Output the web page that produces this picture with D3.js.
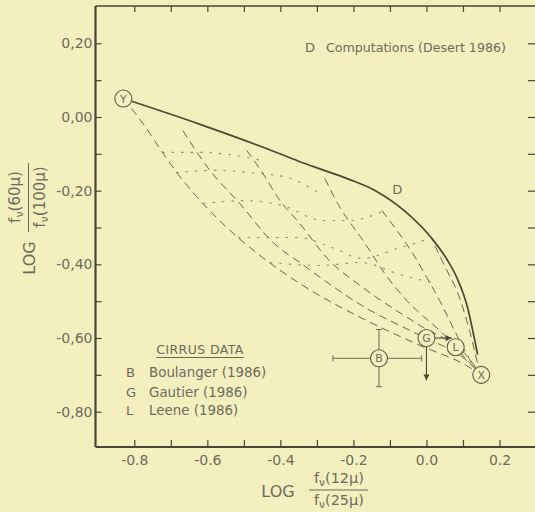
<!DOCTYPE html>
<html>
<head>
<meta charset="utf-8">
<script src="https://cdn.jsdelivr.net/npm/d3@7"></script>
<style>
  body { margin: 0; background: #f4efbf; }
  svg { display: block; background: #f4efbf; }
  text { font-family: "DejaVu Sans", sans-serif; fill: #6f6c5a; }
</style>
</head>
<body>
<svg width="535" height="512"></svg>
<script>
// axis ticks
var xTicks = [-0.8, -0.7, -0.6, -0.5, -0.4, -0.3, -0.2, -0.1, 0.0, 0.1, 0.2];
var xLabels = [-0.8, -0.6, -0.4, -0.2, 0.0, 0.2];
var yTicks = [0.2, 0.1, 0.0, -0.1, -0.2, -0.3, -0.4, -0.5, -0.6, -0.7, -0.8];
var yLabels = [0.2, 0.0, -0.2, -0.4, -0.6, -0.8];

// end points of the mixing curves
var pointY = [-0.83, 0.05];
var pointX = [0.15, -0.70];

// Desert (1986) computed curve D
var curveD = [[-0.83, 0.05], [-0.62, -0.02], [-0.44, -0.085], [-0.35, -0.12], [-0.28, -0.145],
  [-0.21, -0.17], [-0.14, -0.20], [-0.06, -0.255], [0.015, -0.33], [0.055, -0.385],
  [0.085, -0.44], [0.112, -0.515], [0.133, -0.61], [0.14, -0.645]];

// dashed curves converging on X
var dashA = [[-0.83, 0.05], [-0.776, -0.018], [-0.721, -0.099], [-0.667, -0.172], [-0.612, -0.235],
  [-0.538, -0.308], [-0.448, -0.382], [-0.347, -0.452], [-0.163, -0.553], [-0.018, -0.62], [0.11, -0.675], [0.15, -0.70]];
var dashB = [[-0.667, -0.037], [-0.593, -0.145], [-0.511, -0.235], [-0.42, -0.341], [-0.347, -0.395],
  [-0.163, -0.52], [-0.018, -0.593], [0.11, -0.661], [0.15, -0.70]];
var dashC = [[-0.492, -0.091], [-0.448, -0.153], [-0.401, -0.227], [-0.347, -0.289], [-0.273, -0.382],
  [-0.163, -0.471], [-0.018, -0.566], [0.11, -0.648], [0.15, -0.70]];
var dashD = [[-0.278, -0.167], [-0.243, -0.235], [-0.174, -0.335], [-0.10, -0.444], [-0.054, -0.498],
  [0.05, -0.593], [0.118, -0.667], [0.15, -0.70]];
var dashE = [[-0.122, -0.254], [-0.081, -0.308], [-0.037, -0.371], [0.001, -0.436], [0.036, -0.498],
  [0.077, -0.58], [0.124, -0.667], [0.15, -0.70]];
var dashF = [[0.023, -0.349], [0.056, -0.417], [0.083, -0.471], [0.118, -0.58], [0.14, -0.669]];

// dotted cross lines
var iso1 = [[-0.724, -0.096], [-0.62, -0.096], [-0.519, -0.105], [-0.451, -0.118]];
var iso2 = [[-0.686, -0.151], [-0.579, -0.145], [-0.483, -0.151], [-0.382, -0.164], [-0.297, -0.205]];
var iso3 = [[-0.612, -0.235], [-0.497, -0.227], [-0.396, -0.24], [-0.284, -0.281], [-0.21, -0.281], [-0.122, -0.257]];
var iso4 = [[-0.516, -0.327], [-0.355, -0.327], [-0.251, -0.357], [-0.177, -0.384], [-0.079, -0.357], [0.009, -0.33]];
var iso5 = [[-0.429, -0.395], [-0.292, -0.403], [-0.182, -0.395], [-0.065, -0.43], [0.028, -0.452]];

// cirrus data
var cirrusIds = ['B', 'G', 'L'];
var cirrusNames = ['Boulanger (1986)', 'Gautier (1986)', 'Leene (1986)'];
var cirrusX = [-0.13, 0.0, 0.08];
var cirrusY = [-0.655, -0.60, -0.625];
var boulangerXErr = [-0.256, -0.013];
var boulangerYErr = [-0.577, -0.732];
var gautierLimits = [0.069, -0.715]; // right arrow to x, down arrow to y

var ink = '#4a4733', dashInk = '#6b6750';

var svg = d3.select('svg');
var frame = { left: 95.5, top: 6, right: 537, bottom: 447 };

var x = d3.scaleLinear().domain([-0.8, 0.2]).range([134.3, 499.5]);
var y = d3.scaleLinear().domain([-0.8, 0.2]).range([411.7, 43.3]);

var line = d3.line()
  .x(function (d) { return x(d[0]); })
  .y(function (d) { return y(d[1]); })
  .curve(d3.curveMonotoneX);

function isLabel(list, d) {
  return list.some(function (v) { return Math.abs(v - d) < 1e-9; });
}

// ticks
function styleAxis(g) {
  g.select('.domain').remove();
  g.selectAll('.tick line').attr('stroke', ink).attr('stroke-width', 1.2);
  g.selectAll('text').style('font-size', '14px').attr('fill', '#6f6c5a');
  g.selectAll('text').filter(function () { return this.textContent === ''; }).remove();
}

svg.append('g')
  .attr('transform', 'translate(0,' + frame.bottom + ')')
  .call(d3.axisBottom(x).tickValues(xTicks).tickSize(-7).tickPadding(8)
    .tickFormat(function (d) { return isLabel(xLabels, d) ? d.toFixed(1) : ''; }))
  .call(styleAxis);

svg.append('g')
  .attr('transform', 'translate(0,' + frame.top + ')')
  .call(d3.axisTop(x).tickValues(xTicks).tickSize(-6).tickFormat(''))
  .call(styleAxis);

svg.append('g')
  .attr('transform', 'translate(' + frame.left + ',0)')
  .call(d3.axisLeft(y).tickValues(yTicks).tickSize(-6).tickPadding(3)
    .tickFormat(function (d) { return isLabel(yLabels, d) ? d.toFixed(2).replace('.', ',') : ''; }))
  .call(styleAxis);

svg.append('g')
  .attr('transform', 'translate(' + (frame.right - 2) + ',0)')
  .call(d3.axisRight(y).tickValues(yTicks).tickSize(-7).tickFormat(''))
  .call(styleAxis);

// frame
svg.append('line').attr('x1', frame.left).attr('x2', frame.right).attr('y1', frame.top).attr('y2', frame.top)
  .attr('stroke', ink).attr('stroke-width', 1.6);
svg.append('line').attr('x1', frame.left).attr('x2', frame.right).attr('y1', frame.bottom).attr('y2', frame.bottom)
  .attr('stroke', ink).attr('stroke-width', 2.2);
svg.append('line').attr('x1', frame.left).attr('x2', frame.left).attr('y1', frame.top).attr('y2', frame.bottom)
  .attr('stroke', ink).attr('stroke-width', 2.2);

// dotted cross lines
svg.selectAll('.iso')
  .data([iso1, iso2, iso3, iso4, iso5])
  .enter().append('path')
  .attr('class', 'iso')
  .attr('d', line)
  .attr('fill', 'none')
  .attr('stroke', dashInk)
  .attr('stroke-width', 1.1)
  .attr('stroke-dasharray', '2.5,7')
  .attr('opacity', 0.7);

// dashed curves
svg.selectAll('.mix')
  .data([dashA, dashB, dashC, dashD, dashE, dashF])
  .enter().append('path')
  .attr('class', 'mix')
  .attr('d', line)
  .attr('fill', 'none')
  .attr('stroke', dashInk)
  .attr('stroke-width', 1)
  .attr('stroke-dasharray', '8,5');

// curve D
svg.append('path')
  .attr('d', line(curveD))
  .attr('fill', 'none')
  .attr('stroke', '#4d4932')
  .attr('stroke-width', 1.7);

svg.append('text')
  .attr('x', x(-0.08)).attr('y', y(-0.21))
  .attr('text-anchor', 'middle')
  .style('font-size', '13px')
  .text('D');

// Boulanger error bars
var bx = x(cirrusX[0]), by = y(cirrusY[0]);
var bars = svg.append('g').attr('stroke', '#6d6a58').attr('stroke-width', 1);
bars.append('line').attr('x1', x(boulangerXErr[0])).attr('x2', x(boulangerXErr[1])).attr('y1', by).attr('y2', by);
bars.append('line').attr('x1', bx).attr('x2', bx).attr('y1', y(boulangerYErr[0])).attr('y2', y(boulangerYErr[1]));
boulangerXErr.forEach(function (v) {
  bars.append('line').attr('x1', x(v)).attr('x2', x(v)).attr('y1', by - 3).attr('y2', by + 3);
});
boulangerYErr.forEach(function (v) {
  bars.append('line').attr('x1', bx - 3).attr('x2', bx + 3).attr('y1', y(v)).attr('y2', y(v));
});

// Gautier limit arrows
svg.append('defs').append('marker')
  .attr('id', 'head')
  .attr('viewBox', '0 0 10 10')
  .attr('refX', 10).attr('refY', 5)
  .attr('markerWidth', 8).attr('markerHeight', 6)
  .attr('markerUnits', 'userSpaceOnUse')
  .attr('orient', 'auto')
  .append('path').attr('d', 'M0,0L10,5L0,10Z').attr('fill', '#4a4733');

var gx = x(cirrusX[1]), gy = y(cirrusY[1]);
svg.append('line').attr('x1', gx + 8).attr('x2', x(gautierLimits[0])).attr('y1', gy).attr('y2', gy)
  .attr('stroke', '#4a4733').attr('stroke-width', 1.1).attr('marker-end', 'url(#head)');
svg.append('line').attr('x1', gx).attr('x2', gx).attr('y1', gy + 8).attr('y2', y(gautierLimits[1]))
  .attr('stroke', '#4a4733').attr('stroke-width', 1.1).attr('marker-end', 'url(#head)');

// circled points
var circled = [{ id: 'Y', x: pointY[0], y: pointY[1] }, { id: 'X', x: pointX[0], y: pointX[1] }];
cirrusIds.forEach(function (id, i) {
  circled.push({ id: id, x: cirrusX[i], y: cirrusY[i] });
});

var marks = svg.selectAll('.mark')
  .data(circled)
  .enter().append('g')
  .attr('class', 'mark')
  .attr('transform', function (d) { return 'translate(' + x(d.x) + ',' + y(d.y) + ')'; });

marks.append('circle')
  .attr('r', 8.5)
  .attr('fill', '#f4efbf')
  .attr('stroke', '#5f5c48')
  .attr('stroke-width', 1.1);

marks.append('text')
  .attr('text-anchor', 'middle')
  .attr('dy', '0.36em')
  .style('font-size', '11px')
  .attr('fill', '#5f5c48')
  .text(function (d) { return d.id; });

// header note
svg.append('text').attr('x', 305).attr('y', 52).style('font-size', '13px').text('D');
svg.append('text').attr('x', 326).attr('y', 52).style('font-size', '12.6px').text('Computations (Desert 1986)');

// cirrus legend
var title = svg.append('text').attr('x', 200).attr('y', 354)
  .attr('text-anchor', 'middle').style('font-size', '12.5px').style('letter-spacing', '0.4px')
  .text('CIRRUS DATA');
var tw = title.node().getComputedTextLength();
svg.append('line').attr('x1', 200 - tw / 2).attr('x2', 200 + tw / 2).attr('y1', 357.5).attr('y2', 357.5)
  .attr('stroke', '#6d6a58').attr('stroke-width', 1);

cirrusIds.forEach(function (id, i) {
  var ty = [377, 397, 415][i];
  svg.append('text').attr('x', 126).attr('y', ty).style('font-size', '13px').text(id);
  svg.append('text').attr('x', 149).attr('y', ty).style('font-size', '13.4px').text(cirrusNames[i]);
});

// axis titles
function ratio(sel, cx, cy, num, size) {
  var t = sel.append('text').attr('x', cx).attr('y', cy).attr('text-anchor', 'middle').style('font-size', size + 'px');
  t.append('tspan').text('f');
  t.append('tspan').attr('dy', 3).style('font-size', (size - 4) + 'px').text('ν');
  t.append('tspan').attr('dy', -3).text('(' + num);
  t.append('tspan').text('μ');
  t.append('tspan').text(')');
  return t;
}

svg.append('text').attr('x', 278).attr('y', 497).attr('text-anchor', 'middle').style('font-size', '16px').text('LOG');
ratio(svg, 339, 483, '12', 14.5);
svg.append('line').attr('x1', 309).attr('x2', 368).attr('y1', 490).attr('y2', 490)
  .attr('stroke', '#6d6a58').attr('stroke-width', 1);
ratio(svg, 339, 505, '25', 14.5);

var yt = svg.append('g').attr('transform', 'rotate(-90)');
yt.append('text').attr('x', -258).attr('y', 34.5).attr('text-anchor', 'middle').style('font-size', '16px').text('LOG');
ratio(yt, -197, 20, '60', 15);
yt.append('line').attr('x1', -232).attr('x2', -163).attr('y1', 28.5).attr('y2', 28.5)
  .attr('stroke', '#6d6a58').attr('stroke-width', 1);
ratio(yt, -197, 45, '100', 15);
</script>
</body>
</html>
